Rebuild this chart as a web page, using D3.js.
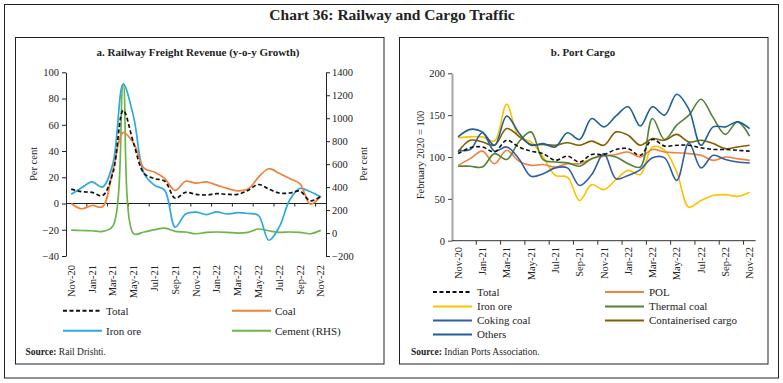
<!DOCTYPE html>
<html><head><meta charset="utf-8">
<script src="https://cdn.jsdelivr.net/npm/d3@7"></script>
<style>
body{margin:0;background:#fff}
text{font-family:"Liberation Serif","DejaVu Serif",serif;fill:#222}
</style>
</head><body>
<svg id="c" width="783" height="383"></svg>
<script>
// ---------- DATA ----------
const months = ["Nov-20","Dec-20","Jan-21","Feb-21","Mar-21","Apr-21","May-21","Jun-21","Jul-21","Aug-21","Sep-21","Oct-21","Nov-21","Dec-21","Jan-22","Feb-22","Mar-22","Apr-22","May-22","Jun-22","Jul-22","Aug-22","Sep-22","Oct-22","Nov-22"];

// Panel a: Railway freight revenue, y-o-y growth (per cent)
const railTotal  = [11, 9, 8.5, 6, 23, 71, 46, 23, 19, 17, 4, 8.5, 7, 6.5, 7.5, 7, 7, 10, 14.5, 11, 8, 8, 9.4, 2, 5.6];
const railCoal   = [0, -4, -1.5, -2.5, 25, 54, 46, 27, 24, 19, 10, 17, 15.5, 16.5, 14, 11.5, 9.7, 11, 20, 26.5, 23, 19, 15, -0.5, 5.6];
const railIron   = [7, 12, 16.5, 12.5, 30, 91, 66, 23, 14, 10, -18, -8, -6.5, -8.4, -6.4, -8, -7, -7.6, -9, -28, -18, 2.5, 11.5, 9, 5];
const railCement = [25, 22, 20, 14, 60, 1300, -5, 9, 29, 43, 14, 9, -6, 6, 9, 6, 0, 6, 35, 20, 6, 9, 6, -6, 23]; // RHS

// Panel b: Port cargo (February 2020 = 100)
const portTotal     = [104, 111, 112, 106, 120, 112, 107, 104, 96, 101, 94, 103, 103, 109, 110, 102, 121, 113, 114, 114, 111, 109, 109, 108, 107];
const portPOL       = [90, 98, 107, 92, 108, 95, 90, 91, 88, 92, 92, 98, 101, 103, 106, 100, 109, 106, 105, 104, 102, 96, 100, 98, 96];
const portIron      = [123, 124, 124, 119, 163, 124, 118, 100, 78, 76, 48, 67, 61, 73, 84, 79, 112, 108, 82, 40, 48, 54, 55, 53, 58];
const portThermal   = [89, 89, 88, 104, 97, 118, 130, 97, 94, 93, 89, 98, 102, 100, 92, 88, 146, 121, 138, 150, 169, 147, 127, 142, 125];
const portCoking    = [108, 109, 129, 107, 112, 98, 77, 80, 87, 87, 66, 79, 104, 74, 78, 85, 99, 99, 72, 117, 87, 102, 97, 94, 93];
const portContainer = [106, 120, 118, 114, 134, 125, 115, 115, 114, 117, 114, 119, 114, 130, 126, 114, 122, 120, 127, 118, 120, 116, 110, 112, 114];
const portOthers    = [124, 133, 130, 114, 149, 129, 114, 116, 112, 129, 121, 146, 136, 149, 160, 137, 160, 150, 175, 157, 114, 136, 136, 142, 134];

const leftTicks  = [-40, -20, 0, 20, 40, 60, 80, 100];
const rightTicks = [-200, 0, 200, 400, 600, 800, 1000, 1200, 1400];
const portTicks  = [0, 50, 100, 150, 200];

// ---------- DRAW ----------
const svg = d3.select("#c");
const curve = d3.curveCatmullRom.alpha(0.5);
const fmt = d3.format("d");

// frames
svg.append("rect").attr("x",4.5).attr("y",4.5).attr("width",774).attr("height",373.5)
  .attr("fill","none").attr("stroke","#222").attr("stroke-width",1);
svg.append("rect").attr("x",15.5).attr("y",37.5).attr("width",368.5).attr("height",326.5)
  .attr("fill","none").attr("stroke","#222").attr("stroke-width",1);
svg.append("rect").attr("x",399.5).attr("y",37.5).attr("width",368.5).attr("height",326.5)
  .attr("fill","none").attr("stroke","#222").attr("stroke-width",1);

svg.append("text").attr("x",392).attr("y",20).attr("text-anchor","middle")
  .attr("font-size",15.5).attr("font-weight","bold").text("Chart 36: Railway and Cargo Traffic");

// ===== Panel a =====
const xA = d3.scaleBand().domain(months).range([66,326]);
const yA = d3.scaleLinear().domain([-40,100]).range([256,72.3]);
const yAR = d3.scaleLinear().domain([-200,1400]).range([256,72.3]);
const cxA = m => xA(m) + xA.bandwidth()/2;

svg.append("text").attr("x",198).attr("y",56).attr("text-anchor","middle")
  .attr("font-size",11).attr("font-weight","bold").text("a. Railway Freight Revenue (y-o-y Growth)");

const axL = svg.append("g").attr("transform","translate(66,0)")
  .call(d3.axisLeft(yA).tickValues(leftTicks).tickFormat(fmt).tickSize(4).tickSizeOuter(0).tickPadding(3));
const axR = svg.append("g").attr("transform","translate(326,0)")
  .call(d3.axisRight(yAR).tickValues(rightTicks).tickFormat(fmt).tickSize(4).tickSizeOuter(0).tickPadding(2));
[axL,axR].forEach(g=>{
  g.selectAll("path,line").attr("stroke","#222");
  g.selectAll("text").attr("font-size",10.5).attr("font-family","Liberation Serif, serif").attr("fill","#222");
});

// horizontal zero axis with ticks
const gx = svg.append("g");
gx.append("line").attr("x1",66).attr("x2",326).attr("y1",yA(0)).attr("y2",yA(0)).attr("stroke","#222");
months.forEach((m,i)=>{
  if(i>0 && i%2===0){
    gx.append("line").attr("x1",xA(m)).attr("x2",xA(m)).attr("y1",yA(0)).attr("y2",yA(0)+3).attr("stroke","#222");
  }
  if(i%2===0){
    gx.append("text").attr("transform",`translate(${cxA(m)},265) rotate(-90)`)
      .attr("text-anchor","end").attr("dy","0.35em").attr("font-size",10.5).text(m);
  }
});

svg.append("text").attr("transform","translate(36.5,164) rotate(-90)").attr("text-anchor","middle")
  .attr("font-size",10.5).text("Per cent");
svg.append("text").attr("transform","translate(367,164) rotate(-90)").attr("text-anchor","middle")
  .attr("font-size",10.5).text("Per cent");

const lineA = d3.line().x((d,i)=>cxA(months[i])).y(d=>yA(d)).curve(curve);
const lineAR = d3.line().x((d,i)=>cxA(months[i])).y(d=>yAR(d)).curve(curve);

const seriesA = [
  {name:"Cement (RHS)", data:railCement, color:"#6BB646", gen:lineAR},
  {name:"Iron ore", data:railIron, color:"#2DA8E0", gen:lineA},
  {name:"Coal", data:railCoal, color:"#F2813B", gen:lineA},
  {name:"Total", data:railTotal, color:"#111", gen:lineA, dash:"4,2.5"}
];
seriesA.forEach(s=>{
  svg.append("path").attr("d",s.gen(s.data)).attr("fill","none").attr("stroke",s.color)
    .attr("stroke-width",1.7).attr("stroke-dasharray",s.dash||null);
});

const legA = [
  {name:"Total", color:"#111", dash:"4,2.5", x:63, y:310.7},
  {name:"Coal", color:"#F2813B", x:232, y:310.7},
  {name:"Iron ore", color:"#2DA8E0", x:63, y:330.7},
  {name:"Cement (RHS)", color:"#6BB646", x:232, y:330.7}
];
legA.forEach(l=>{
  svg.append("line").attr("x1",l.x).attr("x2",l.x+39).attr("y1",l.y).attr("y2",l.y)
    .attr("stroke",l.color).attr("stroke-width",2).attr("stroke-dasharray",l.dash||null);
  svg.append("text").attr("x",l.x+43).attr("y",l.y+3.8).attr("font-size",11).text(l.name);
});
const srcA = svg.append("text").attr("x",25.5).attr("y",355).attr("font-size",9.5);
srcA.append("tspan").attr("font-weight","bold").text("Source: ");
srcA.append("tspan").text("Rail Drishti.");

// ===== Panel b =====
const xB = d3.scaleBand().domain(months).range([452,755.7]);
const yB = d3.scaleLinear().domain([0,200]).range([240.7,73.3]);
const cxB = m => xB(m) + xB.bandwidth()/2;

svg.append("text").attr("x",583).attr("y",56).attr("text-anchor","middle")
  .attr("font-size",11).attr("font-weight","bold").text("b. Port Cargo");

const axB = svg.append("g").attr("transform","translate(452,0)")
  .call(d3.axisLeft(yB).tickValues(portTicks).tickFormat(fmt).tickSize(4).tickSizeOuter(0).tickPadding(3));
axB.select("path").attr("stroke","#A6A6A6").attr("stroke-width",2);
axB.selectAll("line").attr("stroke","#444");
axB.selectAll("text").attr("font-size",10.5).attr("font-family","Liberation Serif, serif").attr("fill","#222");

const gxB = svg.append("g");
gxB.append("line").attr("x1",452).attr("x2",755.7).attr("y1",yB(0)).attr("y2",yB(0)).attr("stroke","#333");
months.forEach((m,i)=>{
  if(i>0 && i%2===0){
    gxB.append("line").attr("x1",xB(m)).attr("x2",xB(m)).attr("y1",yB(0)).attr("y2",yB(0)+4).attr("stroke","#333");
  }
  if(i%2===0){
    gxB.append("text").attr("transform",`translate(${cxB(m)},247) rotate(-90)`)
      .attr("text-anchor","end").attr("dy","0.35em").attr("font-size",10.5).text(m);
  }
});

svg.append("text").attr("transform","translate(424,155) rotate(-90)").attr("text-anchor","middle")
  .attr("font-size",10.5).text("February 2020 = 100");

const lineB = d3.line().x((d,i)=>cxB(months[i])).y(d=>yB(d)).curve(curve);
const seriesB = [
  {name:"Total", data:portTotal, color:"#111", dash:"4,2.5"},
  {name:"POL", data:portPOL, color:"#F0803C"},
  {name:"Iron ore", data:portIron, color:"#FFC000"},
  {name:"Thermal coal", data:portThermal, color:"#548235"},
  {name:"Coking coal", data:portCoking, color:"#2F5DA6"},
  {name:"Containerised cargo", data:portContainer, color:"#806000"},
  {name:"Others", data:portOthers, color:"#1F5F98"}
];
const drawOrder = [2,1,3,5,4,6,0];
drawOrder.forEach(k=>{
  const s = seriesB[k];
  svg.append("path").attr("d",lineB(s.data)).attr("fill","none").attr("stroke",s.color)
    .attr("stroke-width",1.6).attr("stroke-dasharray",s.dash||null);
});

const legPos = [
  {x:433, y:292}, {x:605, y:292},
  {x:433, y:306.5}, {x:605, y:306.5},
  {x:433, y:320.5}, {x:605, y:320.5},
  {x:433, y:334.5}
];
seriesB.forEach((s,i)=>{
  const p = legPos[i];
  svg.append("line").attr("x1",p.x).attr("x2",p.x+39).attr("y1",p.y).attr("y2",p.y)
    .attr("stroke",s.color).attr("stroke-width",2).attr("stroke-dasharray",s.dash||null);
  svg.append("text").attr("x",p.x+44).attr("y",p.y+3.8).attr("font-size",11).text(s.name);
});
const srcB = svg.append("text").attr("x",411).attr("y",355).attr("font-size",9.5);
srcB.append("tspan").attr("font-weight","bold").text("Source: ");
srcB.append("tspan").text("Indian Ports Association.");
</script>
</body></html>
